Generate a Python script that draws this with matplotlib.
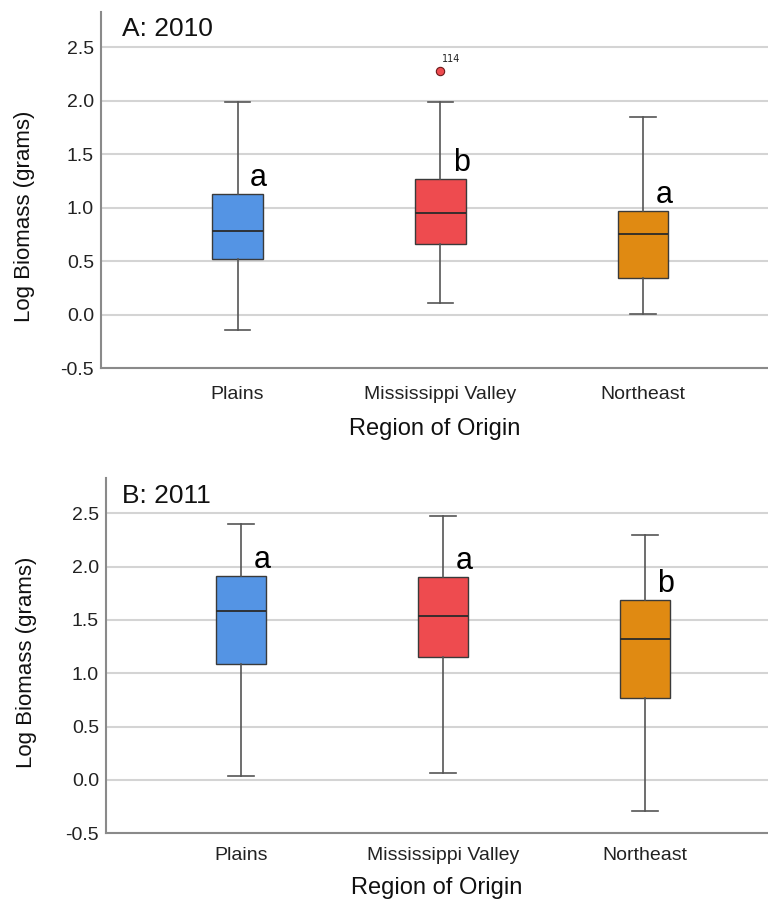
import matplotlib
matplotlib.use("Agg")
import matplotlib.pyplot as plt

plt.rcParams['font.family'] = ['Liberation Sans', 'DejaVu Sans']

regions = ["Plains", "Mississippi Valley", "Northeast"]
colors = ["#5494E4", "#EE4B4F", "#E08A12"]

# 2010
wlo_2010 = [-0.145, 0.107, 0.005]
q1_2010 = [0.516, 0.656, 0.344]
med_2010 = [0.783, 0.946, 0.750]
q3_2010 = [1.129, 1.266, 0.970]
whi_2010 = [1.986, 1.986, 1.846]
fliers_2010 = [[], [2.276], []]
flier_ids_2010 = [[], ["114"], []]
letters_2010 = ["a", "b", "a"]

# 2011
wlo_2011 = [0.040, 0.063, -0.288]
q1_2011 = [1.088, 1.156, 0.766]
med_2011 = [1.587, 1.538, 1.319]
q3_2011 = [1.912, 1.903, 1.688]
whi_2011 = [2.400, 2.475, 2.294]
fliers_2011 = [[], [], []]
flier_ids_2011 = [[], [], []]
letters_2011 = ["a", "a", "b"]

yticks = [-0.5, 0.0, 0.5, 1.0, 1.5, 2.0, 2.5]

W, H = 768, 905
fig = plt.figure(figsize=(W / 100, H / 100), dpi=100)


def panel(rect, title, wlo, q1, med, q3, whi, fliers, fids, letters, xlim,
          title_xy, xpad, xlabelpad, ylabel_xy):
    ax = fig.add_axes(rect)
    stats = []
    for i in range(len(regions)):
        stats.append(dict(whislo=wlo[i], q1=q1[i], med=med[i], q3=q3[i],
                          whishi=whi[i], fliers=fliers[i], label=regions[i]))
    pos = list(range(len(regions)))
    bp = ax.bxp(stats, positions=pos, widths=0.25, patch_artist=True,
                showfliers=True, zorder=3,
                boxprops=dict(edgecolor="#3a3a3a", linewidth=1.0),
                medianprops=dict(color="#2a2a2a", linewidth=1.3),
                whiskerprops=dict(color="#555555", linewidth=1.2),
                capprops=dict(color="#555555", linewidth=1.2),
                flierprops=dict(marker="o", markersize=6,
                                markeredgecolor="#6a1a1a", markeredgewidth=0.8))
    for patch, c in zip(bp["boxes"], colors):
        patch.set_facecolor(c)
    for fl, c in zip(bp["fliers"], colors):
        fl.set_markerfacecolor(c)
    for i, (fv, ids) in enumerate(zip(fliers, fids)):
        for v, s in zip(fv, ids):
            ax.annotate(s, (i, v), xytext=(1, 5), textcoords="offset points",
                        fontsize=7, color="#222222", ha="left", va="bottom",
                        family="DejaVu Sans")
    for i, l in enumerate(letters):
        ax.annotate(l, (i, q3[i]), xytext=(9, 6), textcoords="offset points",
                    fontsize=22, color="black", ha="left", va="baseline")
    ax.set_xlim(*xlim)
    ax.set_ylim(-0.5, 2.83)
    ax.set_yticks(yticks)
    ax.set_yticklabels([f"{v:.1f}" for v in yticks])
    ax.yaxis.grid(True, color="#d4d4d4", linewidth=1.5, zorder=0)
    ax.set_axisbelow(True)
    for s in ["top", "right"]:
        ax.spines[s].set_visible(False)
    for s in ["left", "bottom"]:
        ax.spines[s].set_color("#8a8a8a")
        ax.spines[s].set_linewidth(1.5)
    ax.tick_params(axis="both", length=0, colors="#222222")
    ax.tick_params(axis="x", pad=xpad, labelsize=14)
    ax.tick_params(axis="y", pad=5, labelsize=14)
    ax.set_ylabel("Log Biomass (grams)", fontsize=16, color="#111111")
    ax.yaxis.set_label_coords(*ylabel_xy)
    ax.set_xlabel("Region of Origin", fontsize=17, color="#111111", labelpad=xlabelpad)
    ax.text(title_xy[0], title_xy[1], title, transform=ax.transAxes, fontsize=19,
            ha="left", va="baseline", color="#111111")
    return ax


panel([101 / W, 1 - 368 / H, 1 - 101 / W, (368 - 12) / H], "A: 2010",
      wlo_2010, q1_2010, med_2010, q3_2010, whi_2010, fliers_2010,
      flier_ids_2010, letters_2010, (-0.674, 2.617), (0.031, 0.933), 13, 11,
      (-0.099, 0.427))
panel([106 / W, 1 - 833.3 / H, 1 - 106 / W, (833.3 - 478) / H], "B: 2011",
      wlo_2011, q1_2011, med_2011, q3_2011, whi_2011, fliers_2011,
      flier_ids_2011, letters_2011, (-0.668, 2.609), (0.024, 0.929), 10, 9,
      (-0.104, 0.482))

fig.savefig("out.png", dpi=100)
